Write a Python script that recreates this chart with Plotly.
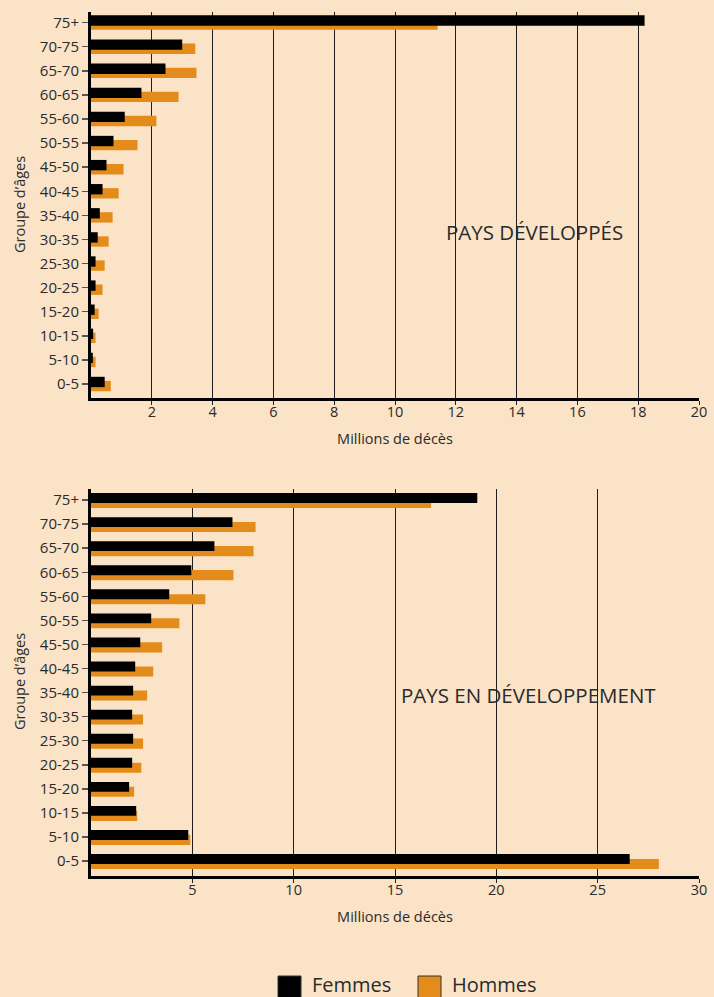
import plotly.graph_objects as go

ages = ["75+", "70-75", "65-70", "60-65", "55-60", "50-55", "45-50", "40-45",
        "35-40", "30-35", "25-30", "20-25", "15-20", "10-15", "5-10", "0-5"]

dev_femmes = [18.21, 3.00, 2.45, 1.66, 1.11, 0.74, 0.51, 0.38,
              0.29, 0.22, 0.15, 0.15, 0.12, 0.07, 0.06, 0.45]
dev_hommes = [11.40, 3.43, 3.47, 2.88, 2.15, 1.53, 1.07, 0.91,
              0.71, 0.58, 0.45, 0.38, 0.25, 0.15, 0.15, 0.65]

edev_femmes = [19.06, 6.98, 6.09, 4.95, 3.86, 2.97, 2.43, 2.18,
               2.08, 2.03, 2.08, 2.03, 1.88, 2.23, 4.80, 26.58]
edev_hommes = [16.78, 8.12, 8.02, 7.03, 5.64, 4.36, 3.51, 3.07,
               2.77, 2.57, 2.57, 2.48, 2.13, 2.28, 4.90, 28.02]

top_ticks = [2, 4, 6, 8, 10, 12, 14, 16, 18, 20]
bot_ticks = [5, 10, 15, 20, 25, 30]

BG = "#FAE3C7"
ORANGE = "#E38C1B"
BLACK = "#000000"
TXT = "#2B2B2B"
FONT = "Open Sans"

fig = go.Figure()

# top chart
fig.add_trace(go.Bar(y=ages, x=dev_hommes, orientation="h", name="Hommes",
                     marker=dict(color=ORANGE, line=dict(width=0)),
                     offset=-0.13, width=0.43, xaxis="x", yaxis="y", showlegend=False))
fig.add_trace(go.Bar(y=ages, x=dev_femmes, orientation="h", name="Femmes",
                     marker=dict(color=BLACK, line=dict(width=0)),
                     offset=-0.30, width=0.43, xaxis="x", yaxis="y", showlegend=False))
# bottom chart
fig.add_trace(go.Bar(y=ages, x=edev_hommes, orientation="h", name="Hommes",
                     marker=dict(color=ORANGE, line=dict(width=0)),
                     offset=-0.09, width=0.42, xaxis="x2", yaxis="y2", showlegend=False))
fig.add_trace(go.Bar(y=ages, x=edev_femmes, orientation="h", name="Femmes",
                     marker=dict(color=BLACK, line=dict(width=0)),
                     offset=-0.29, width=0.41, xaxis="x2", yaxis="y2", showlegend=False))

H_PLOT = 997 - 12 - 121

def py(pix):
    return (876 - pix) / H_PLOT

def px_x(pix):
    return (pix - 91) / (714 - 91 - 15)

xcommon = dict(showgrid=True, gridcolor="#1E1E1E", gridwidth=1,
               showline=True, linecolor="#000000", linewidth=2.5,
               ticks="outside", ticklen=4, tickcolor="#222222",
               ticklabelstandoff=-5,
               tickfont=dict(family=FONT, size=14.5, color=TXT),
               zeroline=False, fixedrange=True, automargin=False)
ycommon = dict(type="category", showgrid=False, showline=True, linecolor="#000000",
               linewidth=3, ticks="outside", ticklen=6, tickwidth=1.5, tickcolor="#555555",
               tickfont=dict(family=FONT, size=15, color=TXT), zeroline=False,
               automargin=False, fixedrange=True)
TITLEFONT = dict(family=FONT, size=14.5, color=TXT)

fig.update_layout(
    width=714, height=997,
    margin=dict(l=91, r=15, t=12, b=121, autoexpand=False),
    paper_bgcolor=BG, plot_bgcolor=BG,
    barmode="overlay",
    hovermode=False,
    font=dict(family=FONT, color=TXT),
    xaxis=dict(domain=[0, 1], anchor="y", range=[0, 20], tickvals=top_ticks,
               title=dict(text="Millions de décès", font=TITLEFONT, standoff=14),
               **xcommon),
    yaxis=dict(domain=[py(398), 1], anchor="x", range=[15.58, -0.44],
               categoryorder="array", categoryarray=ages, **ycommon),
    xaxis2=dict(domain=[0, 1], anchor="y2", range=[0, 30], tickvals=bot_ticks,
                title=dict(text="Millions de décès", font=TITLEFONT, standoff=14),
                **xcommon),
    yaxis2=dict(domain=[0, py(489)], anchor="x2", range=[15.62, -0.46],
                categoryorder="array", categoryarray=ages, **ycommon),
)

# y-axis titles
fig.add_annotation(text="Groupe d’âges", xref="paper", yref="paper",
                   x=px_x(19), y=py(205), textangle=-90, showarrow=False,
                   xanchor="center", yanchor="middle", font=TITLEFONT)
fig.add_annotation(text="Groupe d’âges", xref="paper", yref="paper",
                   x=px_x(19), y=py(682), textangle=-90, showarrow=False,
                   xanchor="center", yanchor="middle", font=TITLEFONT)

fig.add_annotation(text="PAYS DÉVELOPPÉS", xref="x domain", yref="y domain",
                   x=0.730, y=0.429, showarrow=False, xanchor="center", yanchor="middle",
                   font=dict(family=FONT, size=20.5, color=TXT))
fig.add_annotation(text="PAYS EN DÉVELOPPEMENT", xref="x2 domain", yref="y2 domain",
                   x=0.7196, y=0.4677, showarrow=False, xanchor="center", yanchor="middle",
                   font=dict(family=FONT, size=20.5, color=TXT))

# custom legend
fig.add_shape(type="rect", xref="paper", yref="paper",
              x0=px_x(278), x1=px_x(301), y0=py(999), y1=py(976),
              fillcolor=BLACK, line=dict(color="#333333", width=1))
fig.add_shape(type="rect", xref="paper", yref="paper",
              x0=px_x(418), x1=px_x(441), y0=py(999), y1=py(976),
              fillcolor=ORANGE, line=dict(color="#333333", width=1))
fig.add_annotation(text="Femmes", xref="paper", yref="paper", x=px_x(310), y=py(984.5),
                   xanchor="left", yanchor="middle", showarrow=False,
                   font=dict(family=FONT, size=20, color=TXT))
fig.add_annotation(text="Hommes", xref="paper", yref="paper", x=px_x(450), y=py(984.5),
                   xanchor="left", yanchor="middle", showarrow=False,
                   font=dict(family=FONT, size=20, color=TXT))

fig.write_html("out.html", config={"displayModeBar": False, "staticPlot": True},
               post_script="document.body.style.margin='0px';document.body.style.overflow='hidden';")
